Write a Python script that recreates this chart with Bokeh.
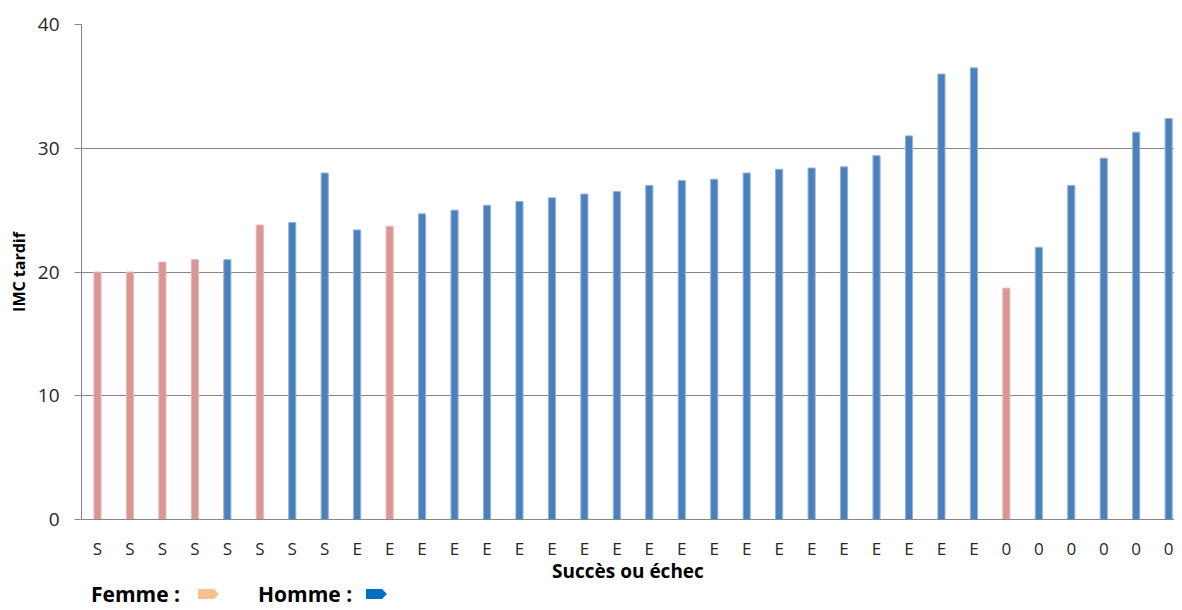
from bokeh.plotting import figure
from bokeh.layouts import column
from bokeh.models import Range1d, FixedTicker, ColumnDataSource, Div
from bokeh.embed import file_html
from bokeh.resources import INLINE

# ---- data ----
categories = ["S"] * 8 + ["E"] * 20 + ["0"] * 6
values = [20.0, 20.0, 20.8, 21.0, 21.0, 23.8, 24.0, 28.0,
          23.4, 23.7, 24.7, 25.0, 25.4, 25.7, 26.0, 26.3, 26.5, 27.0, 27.4, 27.5,
          28.0, 28.3, 28.4, 28.5, 29.4, 31.0, 36.0, 36.5,
          18.7, 22.0, 27.0, 29.2, 31.3, 32.4]
sexe = ["F", "F", "F", "F", "H", "F", "H", "H", "H", "F"] + ["H"] * 18 + ["F"] + ["H"] * 5
y_ticks = [0, 10, 20, 30, 40]
legend_labels = ["Femme :", "Homme :"]
legend_colors = ["#FAC090", "#0070C0"]

fill_colors = {"F": "#D99694", "H": "#4A81BD"}
line_colors = {"F": "#E8B8B7", "H": "#95B3D7"}

positions = list(range(1, len(values) + 1))
src = ColumnDataSource(dict(
    x=positions, top=values, cat=categories,
    fill=[fill_colors[s] for s in sexe],
    line=[line_colors[s] for s in sexe],
))

W, H = 1174, 586
FL, FT, FB = 81, 24, 520  # frame pixel box
X0, X1 = 0.507, 34.18
Y0, Y1 = 0, 40

p = figure(width=W, height=H, output_backend="svg", toolbar_location=None,
           x_range=Range1d(X0, X1), y_range=Range1d(Y0, Y1),
           min_border_left=FL, min_border_top=FT, min_border_right=0,
           min_border_bottom=H - FB)
p.outline_line_color = None
p.background_fill_color = "white"
p.border_fill_color = "white"

p.vbar(x="x", top="top", width=0.22, source=src,
       fill_color="fill", line_color="line", line_width=1)

GRAY = "#868686"
TXT = "#262626"
FONT = "Open Sans"

# grid
p.xgrid.grid_line_color = None
p.ygrid.ticker = FixedTicker(ticks=y_ticks)
p.ygrid.grid_line_color = GRAY
p.ygrid.grid_line_width = 1

# y axis
p.yaxis.ticker = FixedTicker(ticks=y_ticks)
p.yaxis.axis_line_color = GRAY
p.yaxis.major_tick_line_color = GRAY
p.yaxis.major_tick_out = 7
p.yaxis.major_tick_in = 0
p.yaxis.minor_tick_line_color = None
p.yaxis.major_label_standoff = 15
p.yaxis.major_label_text_font = FONT
p.yaxis.major_label_text_font_size = "19px"
p.yaxis.major_label_text_color = TXT
p.yaxis.axis_label = "IMC tardif"
p.yaxis.axis_label_text_font = FONT
p.yaxis.axis_label_text_font_size = "16px"
p.yaxis.axis_label_text_font_style = "bold"
p.yaxis.axis_label_text_color = "black"
p.yaxis.axis_label_standoff = 5

# x axis
p.xaxis.ticker = FixedTicker(ticks=positions)
p.xaxis.major_label_overrides = {i: c for i, c in zip(positions, categories)}
p.xaxis.axis_line_color = GRAY
p.xaxis.major_tick_line_color = None
p.xaxis.minor_tick_line_color = None
p.xaxis.major_tick_out = 0
p.xaxis.major_tick_in = 0
p.xaxis.major_label_standoff = 17
p.xaxis.major_label_text_font = FONT
p.xaxis.major_label_text_font_size = "17px"
p.xaxis.major_label_text_color = TXT
p.xaxis.axis_label = "Succès ou échec"
p.xaxis.axis_label_text_font = FONT
p.xaxis.axis_label_text_font_size = "19px"
p.xaxis.axis_label_text_font_style = "bold"
p.xaxis.axis_label_text_color = "black"
p.xaxis.axis_label_standoff = -5

# ---- legend row under the chart (HTML text + small arrow markers) ----
def item(label, color, x_text, x_mark):
    return (
        f'<span style="position:absolute;left:{x_text}px;top:-12px;'
        f'white-space:nowrap;">{label}</span>'
        f'<svg style="position:absolute;left:{x_mark}px;top:-2px;" width="22" height="10">'
        f'<polygon points="0,0 16,0 21,5 16,10 0,10" fill="{color}"/></svg>'
    )

legend_html = (
    '<div style="position:relative;width:600px;height:16px;font-family:\'Open Sans\';'
    'font-weight:bold;font-size:21px;color:black;">'
    + item(legend_labels[0], legend_colors[0], 86, 193)
    + item(legend_labels[1], legend_colors[1], 253, 361)
    + '</div>'
)
legend_div = Div(text=legend_html, width=W, height=16)

layout = column(p, legend_div, spacing=0)
open("out.html", "w").write(file_html(layout, INLINE))
